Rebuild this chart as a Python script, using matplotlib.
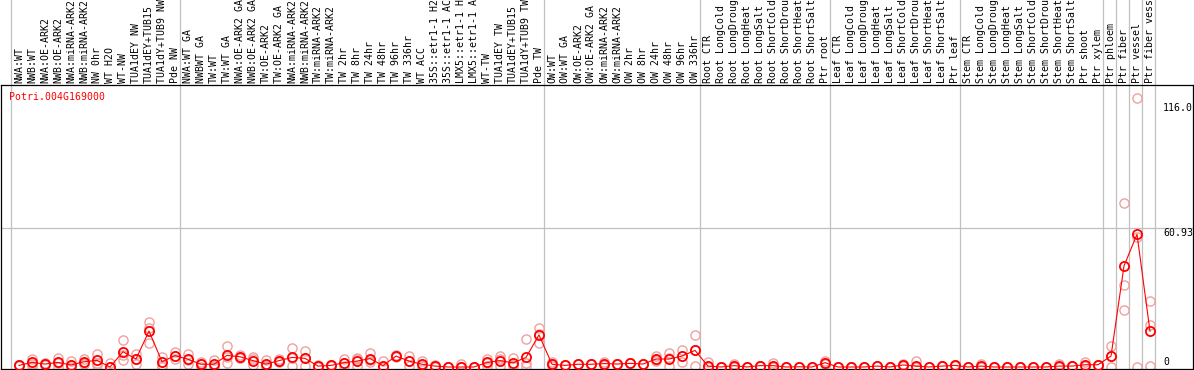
import matplotlib
matplotlib.use('Agg')
import matplotlib.pyplot as plt
from matplotlib.transforms import blended_transform_factory

title = 'Potri.004G169000'

labels = [
    'NWA:WT', 'NWB:WT', 'NWA:OE-ARK2', 'NWB:OE-ARK2', 'NWA:miRNA-ARK2', 'NWB:miRNA-ARK2',
    'NW 0hr', 'WT H2O', 'WT-NW', 'TUA1dEY NW', 'TUA1dEY+TUB15', 'TUA1dY+TUB9 NW', 'Pde NW',
    'NWA:WT GA', 'NWBWT GA', 'TW:WT', 'TW:WT GA', 'NWA:OE-ARK2 GA', 'NWB:OE-ARK2 GA',
    'TW:OE-ARK2', 'TW:OE-ARK2 GA', 'NWA:miRNA-ARK2', 'NWB:miRNA-ARK2', 'TW:miRNA-ARK2',
    'TW:miRNA-ARK2', 'TW 2hr', 'TW 8hr', 'TW 24hr', 'TW 48hr', 'TW 96hr', 'TW 336hr', 'WT ACC',
    '35S::etr1-1 H2', '35S::etr1-1 AC', 'LMX5::etr1-1 H', 'LMX5::etr1-1 A', 'WT-TW',
    'TUA1dEY TW', 'TUA1dEY+TUB15', 'TUA1dY+TUB9 TW', 'Pde TW',
    'OW:WT', 'OW:WT GA', 'OW:OE-ARK2', 'OW:OE-ARK2 GA', 'OW:miRNA-ARK2', 'OW:miRNA-ARK2',
    'OW 2hr', 'OW 8hr', 'OW 24hr', 'OW 48hr', 'OW 96hr', 'OW 336hr',
    'Root CTR', 'Root LongCold', 'Root LongDroug', 'Root LongHeat', 'Root LongSalt',
    'Root ShortCold', 'Root ShortDrou', 'Root ShortHeat', 'Root ShortSalt', 'Ptr root',
    'Leaf CTR', 'Leaf LongCold', 'Leaf LongDroug', 'Leaf LongHeat', 'Leaf LongSalt',
    'Leaf ShortCold', 'Leaf ShortDrou', 'Leaf ShortHeat', 'Leaf ShortSalt', 'Ptr leaf',
    'Stem CTR', 'Stem LongCold', 'Stem LongDroug', 'Stem LongHeat', 'Stem LongSalt',
    'Stem ShortCold', 'Stem ShortDrou', 'Stem ShortHeat', 'Stem ShortSalt', 'Ptr shoot',
    'Ptr xylem', 'Ptr phloem', 'Ptr fiber', 'Ptr vessel', 'Ptr fiber vess',
]
group_sizes = [13, 28, 12, 10, 10, 11, 1, 1, 1, 1]

mean = [0.7, 2.0, 1.3, 2.0, 0.9, 2.3, 2.9, 0.0, 6.7, 3.5, 15.8, 2.3, 5.0,
        3.4, 1.2, 1.2, 5.1, 4.5, 2.8, 1.3, 2.8, 4.2, 3.8, 0.4, 0.7, 1.9, 2.6, 3.7, 0.6,
        4.8, 2.6, 1.2, 0.4, 0.0, 0.0, 0.0, 2.0, 2.8, 1.8, 4.2, 14.1,
        1.2, 0.7, 1.2, 1.2, 1.5, 1.3, 1.6, 1.3, 3.5, 3.5, 4.8, 7.3,
        0.4, 0.0, 0.6, 0.0, 0.6, 0.6, 0.0, 0.1, 0.0, 1.9,
        0.0, 0.0, 0.0, 0.4, 0.0, 0.9, 0.4, 0.0, 0.4, 0.7,
        0.0, 0.4, 0.0, 0.0, 0.0, 0.0, 0.0, 0.4, 0.4, 1.0, 1.0,
        4.8, 44.4, 58.3, 15.7]
rep1 = [1.0, 3.5, 1.6, 3.8, 2.5, 3.7, 5.7, 1.6, 12.0, 5.9, 19.8, 4.5, 6.7,
        5.9, 2.3, 3.1, 9.2, 5.3, 4.2, 3.1, 3.4, 8.2, 7.0, 0.7, 0.9, 3.7, 4.0, 6.0, 2.8,
        5.1, 4.8, 2.8, 0.7, 0.0, 1.2, 0.0, 3.7, 4.7, 4.0, 12.2, 17.0,
        2.0, 0.7, 1.2, 1.2, 2.0, 1.3, 1.6, 1.3, 4.8, 6.3, 7.3, 13.9,
        2.0, 0.0, 1.2, 0.0, 0.6, 1.8, 0.0, 0.1, 0.0, 2.6,
        0.0, 0.0, 0.0, 0.4, 0.0, 1.2, 2.6, 0.0, 0.4, 1.0,
        0.0, 1.2, 0.0, 0.0, 0.0, 0.0, 0.0, 1.3, 0.4, 2.3, 1.0,
        9.4, 71.9, 118.0, 28.8]
rep2 = [0.5, 1.3, 1.0, 1.6, 0.9, 1.6, 1.6, 0.0, 2.9, 1.2, 10.5, 0.9, 3.5,
        1.2, 0.1, 0.0, 1.8, 4.1, 0.9, 0.4, 2.3, 0.4, 0.4, 0.2, 0.5, 0.4, 0.4, 2.0, 0.0,
        4.6, 0.4, 0.4, 0.4, 0.0, 0.0, 0.0, 0.4, 0.4, 0.4, 1.6, 10.7,
        0.5, 0.7, 1.2, 1.2, 1.5, 1.3, 1.6, 1.3, 3.0, 0.4, 2.3, 0.4,
        0.0, 0.0, 0.4, 0.0, 0.6, 0.0, 0.0, 0.1, 0.0, 1.5,
        0.0, 0.0, 0.0, 0.4, 0.0, 0.9, 0.0, 0.0, 0.4, 0.7,
        0.0, 0.0, 0.0, 0.0, 0.0, 0.0, 0.0, 0.0, 0.4, 0.4, 1.0,
        5.0, 35.9, 0.0, 18.4]
rep3 = [0.7, 0.4, 1.3, 0.0, 0.0, 1.5, 0.9, 0.0, 5.2, 3.4, 17.1, 0.0, 4.8,
        3.1, 1.2, 0.5, 4.3, 4.1, 3.3, 0.4, 2.7, 4.0, 4.0, 0.3, 0.7, 1.6, 3.4, 3.1, 0.0,
        4.7, 2.6, 0.4, 0.1, 0.0, 0.0, 0.0, 1.9, 3.3, 1.0, 0.4, 14.6,
        1.1, 0.7, 1.2, 1.2, 1.0, 1.3, 1.6, 1.3, 2.7, 3.8, 4.8, 7.6,
        0.0, 0.0, 0.2, 0.0, 0.6, 0.0, 0.0, 0.1, 0.0, 1.6,
        0.0, 0.0, 0.0, 0.4, 0.0, 0.6, 0.0, 0.0, 0.4, 0.4,
        0.0, 0.0, 0.0, 0.0, 0.0, 0.0, 0.0, 0.0, 0.4, 0.3, 1.0,
        0.0, 25.0, 57.0, 0.4]
ref_values = [116.0, 60.93]
ref_texts = ['116.0', '60.93']

W, H = 1194, 370
mono = 'DejaVu Sans Mono'
fs = 7.1
grey = '#c0c0c0'
pink = '#f0a0a0'

fig = plt.figure(figsize=(W / 100, H / 100), dpi=100)
top_px, bot_px, left_px, right_px = 85, 369, 1, 1193
ax = fig.add_axes([left_px / W, (H - bot_px) / H, (right_px - left_px) / W,
                   (bot_px - top_px) / H])

# pixel mapping: index i at x = 19 + 13 i ; value 0 at y = 367, 2.276 px per unit
step, x0 = 13.0, 19.0
k, y0 = 2.276, 367.0
ax.set_xlim((left_px - x0) / step, (right_px - x0) / step)
ax.set_ylim(-(bot_px - y0) / k, (y0 - top_px) / k)

for s in ['left', 'top', 'bottom', 'right']:
    ax.spines[s].set_color('black')
    ax.spines[s].set_linewidth(0.9)
ax.set_xticks([])
ax.set_yticks([])

tr = blended_transform_factory(ax.transData, ax.transAxes)

# separators
bounds = [-0.6]
c = 0
for g in group_sizes:
    c += g
    bounds.append(c - 0.6)
for b in bounds:
    ax.plot([b, b], [0, 1.4], transform=tr, color=grey, lw=0.9, clip_on=False, zorder=1)

# horizontal reference grid
ax.axhline(ref_values[1], color=grey, lw=0.9, zorder=1)

xs = list(range(len(labels)))
for r in (rep1, rep2, rep3):
    ax.plot(xs, r, linestyle='none', marker='o', markersize=6.6, markerfacecolor='none',
            markeredgecolor=pink, markeredgewidth=1.0, zorder=2, clip_on=False)
ax.plot(xs, mean, color='red', lw=0.8, marker='o', markersize=6.6, markerfacecolor='none',
        markeredgecolor='red', markeredgewidth=1.3, zorder=3, clip_on=False)

# category labels
for i, lab in enumerate(labels):
    ax.text(i, 1 + 2.0 / (bot_px - top_px), lab, transform=tr, rotation=90, ha='center',
            va='bottom', fontsize=fs, family=mono, color='black', clip_on=False)

# value labels at right
lab_x = (1163 - x0) / step
for v, t in zip(ref_values, ref_texts):
    ax.text(lab_x, v, t, ha='left', va='top', fontsize=fs, family=mono, color='black')
ax.text(lab_x, 0, '0', ha='left', va='bottom', fontsize=fs, family=mono, color='black')

fig.text(9 / W, 1 - 92 / H, title, color='red', ha='left', va='top', fontsize=fs, family=mono)

fig.savefig('out.png', dpi=100)
